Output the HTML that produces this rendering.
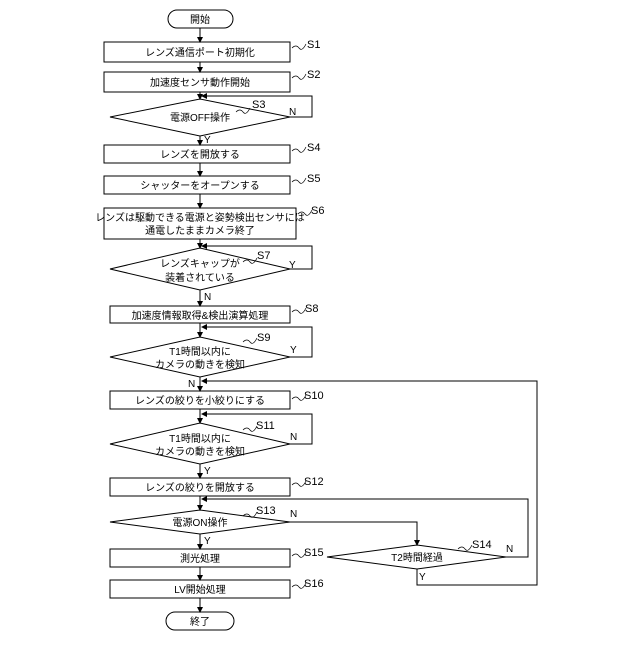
<!DOCTYPE html><html><head><meta charset="utf-8"><style>body{margin:0;background:#fff}svg text{font-family:"Liberation Sans","Noto Sans CJK JP",sans-serif;font-size:10px;fill:#000}</style></head><body>
<svg width="640" height="640" viewBox="0 0 640 640" xmlns="http://www.w3.org/2000/svg">
<defs><marker id="a" markerWidth="6" markerHeight="6" refX="5" refY="3" orient="auto"><path d="M0,0L6,3L0,6z" fill="#000"/></marker></defs>
<g fill="none" stroke="#000" stroke-width="1">
<rect x="168" y="10" width="65" height="18" rx="9"/>
<rect x="104" y="42" width="186" height="20"/>
<rect x="104" y="72" width="186" height="20"/>
<polygon points="110,117 200,99 290,117 200,136"/>
<rect x="104" y="145" width="186" height="18"/>
<rect x="104" y="176" width="186" height="18"/>
<rect x="104" y="208" width="192" height="31"/>
<polygon points="110,269 200,248 290,269 200,290"/>
<rect x="110" y="306" width="180" height="17"/>
<polygon points="110,357 200,337 290,357 200,377"/>
<rect x="110" y="391" width="180" height="18"/>
<polygon points="110,444 200,423 290,444 200,464"/>
<rect x="110" y="478" width="180" height="18"/>
<polygon points="110,522 200,510 290,522 200,534"/>
<polygon points="327,557 417,545 506,557 417,569"/>
<rect x="110" y="549" width="180" height="18"/>
<rect x="110" y="580" width="180" height="18"/>
<rect x="166" y="612" width="68" height="18" rx="9"/>
<g marker-end="url(#a)">
<line x1="200" y1="28" x2="200" y2="42"/><line x1="200" y1="62" x2="200" y2="72"/>
<line x1="200" y1="92" x2="200" y2="99"/><line x1="200" y1="136" x2="200" y2="145"/>
<line x1="200" y1="163" x2="200" y2="176"/><line x1="200" y1="194" x2="200" y2="208"/>
<line x1="200" y1="239" x2="200" y2="248"/><line x1="200" y1="290" x2="200" y2="306"/>
<line x1="200" y1="323" x2="200" y2="337"/><line x1="200" y1="377" x2="200" y2="391"/>
<line x1="200" y1="409" x2="200" y2="423"/><line x1="200" y1="464" x2="200" y2="478"/>
<line x1="200" y1="496" x2="200" y2="510"/><line x1="200" y1="534" x2="200" y2="549"/>
<line x1="200" y1="567" x2="200" y2="580"/><line x1="200" y1="598" x2="200" y2="612"/>
<polyline points="290,117 312,117 312,96 202,96"/>
<polyline points="290,269 312,269 312,246 202,246"/>
<polyline points="290,357 312,357 312,327 202,327"/>
<polyline points="290,444 312,444 312,414 202,414"/>
<polyline points="417,569 417,585 537,585 537,381 202,381"/>
<polyline points="506,557 528,557 528,499 202,499"/>
<polyline points="290,522 417,522 417,545"/>
</g>
<g stroke-width="0.7"><path d="M292,48q4,-4 7,0t7,-4"/><path d="M292,78q4,-4 7,0t7,-4"/><path d="M236,112q4,-4 7,0t7,-4"/><path d="M292,151q4,-4 7,0t7,-4"/><path d="M292,182q4,-4 7,0t7,-4"/><path d="M298,214q4,-4 7,0t7,-4"/><path d="M243,262q4,-4 7,0t7,-4"/><path d="M292,312q4,-4 7,0t7,-4"/><path d="M243,342q4,-4 7,0t7,-4"/><path d="M292,399q4,-4 7,0t7,-4"/><path d="M243,430q4,-4 7,0t7,-4"/><path d="M292,485q4,-4 7,0t7,-4"/><path d="M243,516q4,-4 7,0t7,-4"/><path d="M458,549q4,-4 7,0t7,-4"/><path d="M292,556q4,-4 7,0t7,-4"/><path d="M292,587q4,-4 7,0t7,-4"/></g>
</g>
<g text-anchor="middle">
<text x="200" y="23">開始</text><text x="200" y="56">レンズ通信ポート初期化</text><text x="200" y="86">加速度センサ動作開始</text>
<text x="200" y="121">電源OFF操作</text><text x="200" y="158">レンズを開放する</text><text x="200" y="189">シャッターをオープンする</text>
<text x="200" y="221">レンズは駆動できる電源と姿勢検出センサには</text><text x="200" y="234">通電したままカメラ終了</text>
<text x="200" y="267">レンズキャップが</text><text x="200" y="281">装着されている</text>
<text x="200" y="319">加速度情報取得&amp;検出演算処理</text>
<text x="200" y="355">T1時間以内に</text><text x="200" y="368">カメラの動きを検知</text>
<text x="200" y="404">レンズの絞りを小絞りにする</text>
<text x="200" y="442">T1時間以内に</text><text x="200" y="455">カメラの動きを検知</text>
<text x="200" y="491">レンズの絞りを開放する</text><text x="200" y="526">電源ON操作</text>
<text x="417" y="561">T2時間経過</text><text x="200" y="562">測光処理</text><text x="200" y="593">LV開始処理</text><text x="200" y="625">終了</text>
</g>
<g font-size="11">
<text x="307" y="48" style="font-size:11px">S1</text><text x="307" y="78" style="font-size:11px">S2</text><text x="252" y="108" style="font-size:11px">S3</text>
<text x="307" y="151" style="font-size:11px">S4</text><text x="307" y="182" style="font-size:11px">S5</text><text x="311" y="214" style="font-size:11px">S6</text>
<text x="257" y="259" style="font-size:11px">S7</text><text x="305" y="312" style="font-size:11px">S8</text><text x="257" y="341" style="font-size:11px">S9</text>
<text x="304" y="399" style="font-size:11px">S10</text><text x="256" y="429" style="font-size:11px">S11</text><text x="304" y="485" style="font-size:11px">S12</text>
<text x="256" y="514" style="font-size:11px">S13</text><text x="472" y="548" style="font-size:11px">S14</text><text x="304" y="556" style="font-size:11px">S15</text><text x="304" y="587" style="font-size:11px">S16</text>
<text x="289" y="115">N</text><text x="204" y="143">Y</text><text x="289" y="268">Y</text><text x="204" y="300">N</text>
<text x="290" y="353">Y</text><text x="188" y="387">N</text><text x="290" y="440">N</text><text x="204" y="474">Y</text>
<text x="290" y="517">N</text><text x="204" y="544">Y</text><text x="506" y="552">N</text><text x="419" y="580">Y</text>
</g>
</svg></body></html>
